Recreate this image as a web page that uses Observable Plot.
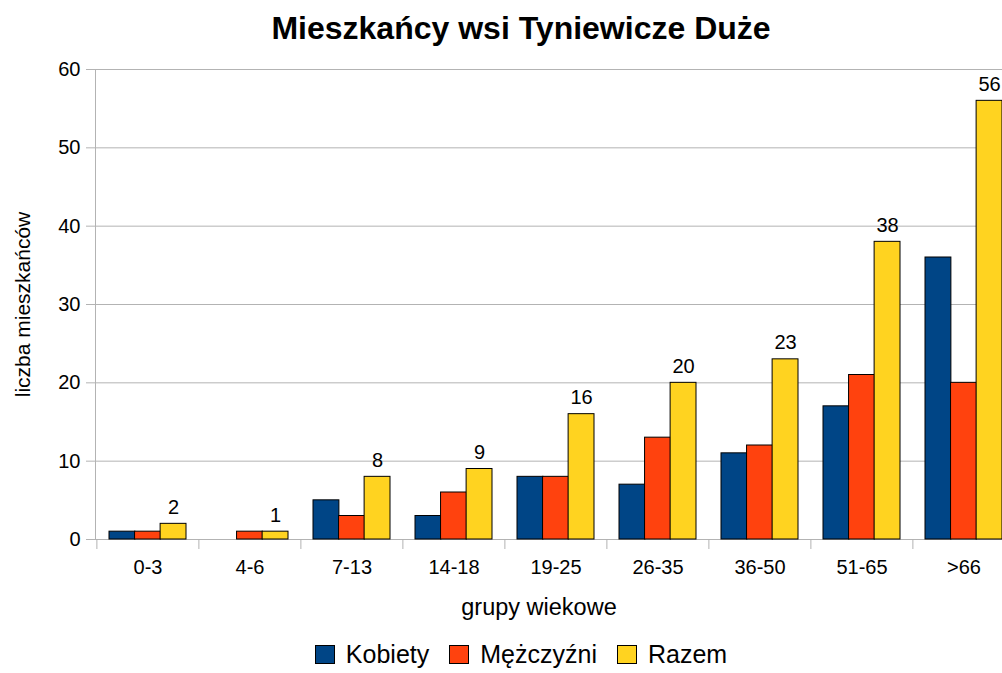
<!DOCTYPE html>
<html>
<head>
<meta charset="utf-8">
<script src="https://cdn.jsdelivr.net/npm/d3@7"></script>
<script src="https://cdn.jsdelivr.net/npm/@observablehq/plot@0.6"></script>
<style>
  html, body { margin: 0; padding: 0; background: white; overflow: hidden; }
  #wrap { width: 1002px; height: 673px; overflow: hidden; position: relative; font-family: "Liberation Sans", Arial, sans-serif; }
  #title { width: 1042px; height: 52px; text-align: center; font-weight: bold; font-size: 32px; line-height: 32px; padding-top: 12px; box-sizing: border-box; color: #000; }
  #legend { width: 1042px; height: 38px; display: flex; justify-content: center; align-items: center; font-size: 25px; color: #000; }
  .item { display: flex; align-items: center; margin: 0 10px; }
  .sw { width: 18px; height: 17px; border: 1px solid #000; margin-right: 11px; }
</style>
</head>
<body>
<div id="wrap">
  <div id="title">Mieszkańcy wsi Tyniewicze Duże</div>
  <div id="chart"></div>
  <div id="legend"></div>
</div>
<script>
const categories = ["0-3", "4-6", "7-13", "14-18", "19-25", "26-35", "36-50", "51-65", ">66"];
const kobiety =    [1, 0, 5, 3, 8, 7, 11, 17, 36];
const mezczyzni =  [1, 1, 3, 6, 8, 13, 12, 21, 20];
const razem =      [2, 1, 8, 9, 16, 20, 23, 38, 56];
const seriesNames = ["Kobiety", "Mężczyźni", "Razem"];
const seriesColors = ["#004586", "#ff420e", "#ffd320"];
const yTicks = [0, 10, 20, 30, 40, 50, 60];
const yLabel = "liczba mieszkańców";
const xLabel = "grupy wiekowe";

const seriesValues = [kobiety, mezczyzni, razem];
const rows = [];
seriesNames.forEach((s, si) => {
  categories.forEach((c, ci) => rows.push({series: s, cat: c, value: seriesValues[si][ci]}));
});

const W = 1030, ML = 95, MR = 15;
const step = (W - ML - MR) / categories.length;
const bw = step * 0.75;
const w = bw / 3;

const barMarks = seriesNames.map((s, si) =>
  Plot.barY(rows.filter(d => d.series === s && d.value > 0), {
    x: "cat", y: "value", fill: "series",
    stroke: "#000", strokeWidth: 1,
    insetLeft: si * w, insetRight: (2 - si) * w
  })
);

const chart = Plot.plot({
  width: W,
  height: 583,
  marginTop: 17,
  marginBottom: 96,
  marginLeft: ML,
  marginRight: MR,
  style: {fontFamily: "Liberation Sans, Arial, sans-serif", maxWidth: "none", background: "white", color: "#000", overflow: "visible"},
  x: {domain: categories, paddingInner: 0.25, paddingOuter: 0.125},
  y: {domain: [0, 60]},
  color: {domain: seriesNames, range: seriesColors},
  marks: [
    Plot.gridY(yTicks, {stroke: "#b3b3b3", strokeOpacity: 1}),
    Plot.axisY(yTicks, {tickSize: 9, stroke: "#b3b3b3", strokeOpacity: 1, tickPadding: 6, fontSize: 20, label: null}),
    Plot.axisX(categories, {tickSize: 10, stroke: "#b3b3b3", strokeOpacity: 1, dx: -step / 2, tickFormat: () => "", label: null}),
    Plot.axisX(categories, {tickSize: 0, tickPadding: 20, fontSize: 20, label: null}),
    Plot.frame({anchor: "left", stroke: "#b3b3b3", strokeOpacity: 1}),
    ...barMarks,
    Plot.text(rows.filter(d => d.series === "Razem"), {
      x: "cat", y: "value", text: d => String(d.value),
      dx: w, dy: -16.4, fontSize: 20, fill: "#000"
    }),
    Plot.text([yLabel], {frameAnchor: "left", textAnchor: "middle", lineAnchor: "middle", rotate: -90, dx: -72, fontSize: 21, fill: "#000"}),
    Plot.text([xLabel], {frameAnchor: "bottom", textAnchor: "middle", lineAnchor: "middle", dx: -16.5, dy: 68, fontSize: 23.5, fill: "#000"})
  ]
});
document.getElementById("chart").appendChild(chart);

const legend = document.getElementById("legend");
seriesNames.forEach((s, i) => {
  const item = document.createElement("div");
  item.className = "item";
  const sw = document.createElement("div");
  sw.className = "sw";
  sw.style.background = seriesColors[i];
  const lab = document.createElement("span");
  lab.textContent = s;
  item.appendChild(sw);
  item.appendChild(lab);
  legend.appendChild(item);
});
</script>
</body>
</html>
